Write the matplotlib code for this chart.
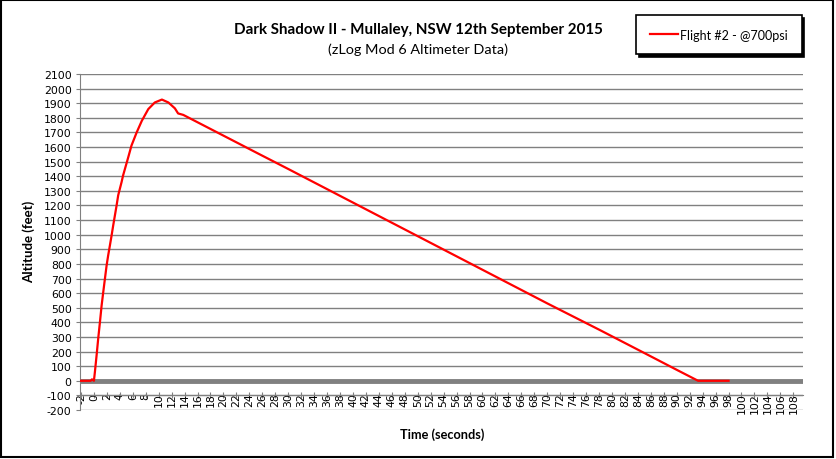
import matplotlib as mpl
mpl.use('Agg')
import matplotlib.pyplot as plt
from matplotlib.patches import Rectangle

# altimeter trace (seconds, feet)
tiempo = [-2, -1, -0.5, -0.3, 0, 0.15, 0.41, 0.66, 0.93, 1.19, 1.44, 1.7, 1.96,
          2.2, 2.47, 2.73, 2.98, 3.24, 3.5, 3.75, 4.27, 4.5, 5.3, 5.8, 6.6, 7.4,
          8.4, 9.4, 10.5, 11.5, 12.5, 13.0, 13.8, 25.6, 30, 40, 50, 60, 70, 78.1,
          85, 90, 93.3, 98]
altitud = [0, 0, 0, 10, 0, 60, 173, 288, 402, 516, 607, 699, 790,
           858, 927, 995, 1064, 1132, 1200, 1270, 1360, 1405, 1530, 1610, 1700, 1780,
           1860, 1905, 1925, 1905, 1865, 1830, 1820, 1550, 1450, 1220, 990, 760, 530, 348,
           190, 75, 0, 0]

serie = 'Flight #2 - @700psi'
titulo = 'Dark Shadow II - Mullaley, NSW 12th September 2015'
subtitulo = '(zLog Mod 6 Altimeter Data)'
xticks = list(range(-2, 109, 2))
yticks = list(range(-200, 2101, 100))

gris = '#808080'
fuente = ['Lato', 'DejaVu Sans']

fig = plt.figure(figsize=(8.36, 4.60), dpi=100)
ax = fig.add_axes([80/836, 1-411/460, 723/836, 336/460])

# el eje horizontal cruza en -100 (hay que ponerlo antes de los ticks)
for s in ['top', 'right']:
    ax.spines[s].set_visible(False)
ax.spines['left'].set_color(gris)
ax.spines['bottom'].set_color(gris)
ax.spines['bottom'].set_position(('data', -100))

ax.plot(tiempo, altitud, color='#ff0000', lw=1.6, label=serie, zorder=4)
ax.axhline(0, color=gris, lw=3.5, zorder=3)

ax.set_xlim(-2.15, 109.5)
ax.set_ylim(-200, 2100)
ax.set_xticks(xticks)
ax.set_xticklabels([str(v) for v in xticks], fontsize=7.8)
ax.set_yticks(yticks)
ax.set_yticklabels([str(v) for v in yticks], fontsize=7.8)
ax.yaxis.grid(True, color=gris, lw=1)
ax.set_axisbelow(True)

ax.tick_params(axis='x', direction='inout', length=5, color=gris, pad=-4.5, labelrotation=90)
ax.tick_params(axis='y', direction='out', length=3, color=gris, pad=3)

fig.text(418/836, 1-30/460, titulo, ha='center', va='center', fontsize=10.9,
         fontweight='bold', family=fuente)
fig.text(418/836, 1-50/460, subtitulo, ha='center', va='center', fontsize=10.4,
         family=fuente)
fig.text(442/836, 1-435/460, 'Time (seconds)', ha='center', va='center', fontsize=9.2,
         fontweight='bold', family=fuente)
fig.text(29/836, 1-242/460, 'Altitude (feet)', ha='center', va='center', fontsize=9.5,
         fontweight='bold', rotation=90, family=fuente)

leg = fig.legend(loc='center', bbox_to_anchor=(719/836, 1-35.5/460), fancybox=False,
                 edgecolor='black', framealpha=1, borderpad=1.1, handlelength=2.24,
                 handletextpad=0.16, prop={'family': fuente, 'size': 9},
                 shadow={'color': 'black', 'alpha': 1})
leg.get_frame().set_linewidth(1.2)

fig.patches.append(Rectangle((1/836, 2/460), 832/836, 457/460, transform=fig.transFigure,
                             fill=False, lw=1.5, edgecolor='black'))

fig.savefig('out.png', dpi=100)
